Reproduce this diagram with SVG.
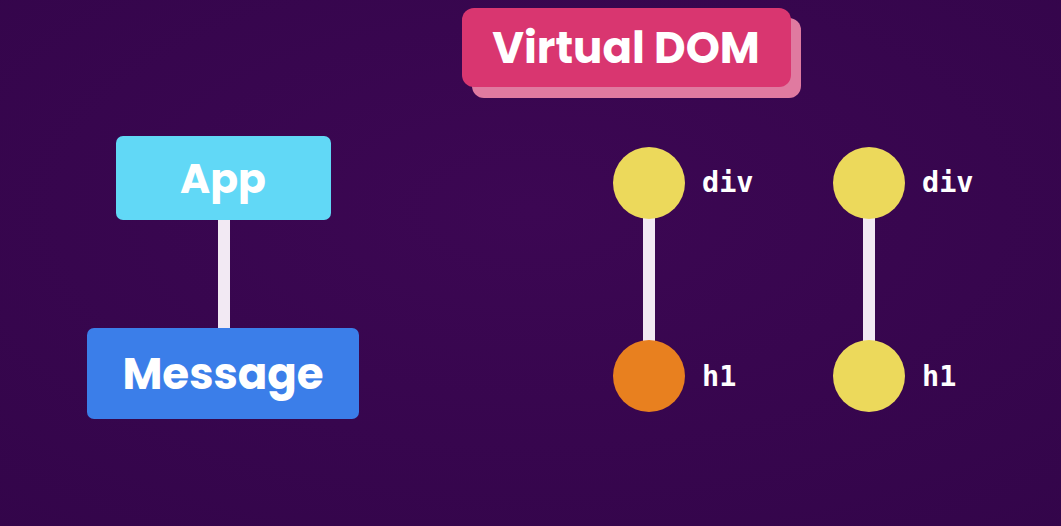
<svg xmlns="http://www.w3.org/2000/svg" width="1061" height="526" viewBox="0 0 1061 526">
<defs>
<radialGradient id="bg" cx="0.5" cy="0.4" r="0.8">
<stop offset="0" stop-color="#3c0753"/>
<stop offset="1" stop-color="#33054a"/>
</radialGradient>
</defs>
<style>
.lbl{font-family:Poppins,"Open Sans","Noto Sans","Liberation Sans",sans-serif;font-weight:700;fill:#ffffff;text-anchor:middle}
.code{font-family:"DejaVu Sans Mono","Liberation Mono",monospace;font-weight:700;font-size:28.5px;fill:#ffffff}
.edge{stroke:#f2e9f3;stroke-width:12;fill:none}
.yel{fill:#ecd95b}
.org{fill:#e8801f}
</style>
<rect width="1061" height="526" fill="url(#bg)"/>
<g id="title">
<rect x="472" y="18" width="329" height="80" rx="12" fill="#e07aa0"/>
<rect x="462" y="8" width="329" height="79" rx="12" fill="#d93670"/>
<text class="lbl" x="626" y="63" font-size="43.5">Virtual DOM</text>
</g>
<g id="connectors">
<line class="edge" x1="224" y1="219" x2="224" y2="329"/>
<line class="edge" x1="649" y1="210" x2="649" y2="350"/>
<line class="edge" x1="869" y1="210" x2="869" y2="350"/>
</g>
<g id="app">
<rect x="116" y="136" width="215" height="84" rx="7" fill="#61d8f6"/>
<text class="lbl" x="223" y="193" font-size="41">App</text>
</g>
<g id="message">
<rect x="87" y="328" width="272" height="91" rx="7" fill="#3b7ee9"/>
<text class="lbl" x="223" y="389" font-size="43.5">Message</text>
</g>
<g id="div1">
<circle class="yel" cx="649" cy="183" r="36"/>
<text class="code" x="702" y="192">div</text>
</g>
<g id="h1a">
<circle class="org" cx="649" cy="376" r="36"/>
<text class="code" x="702" y="386">h1</text>
</g>
<g id="div2">
<circle class="yel" cx="869" cy="183" r="36"/>
<text class="code" x="922" y="192">div</text>
</g>
<g id="h1b">
<circle class="yel" cx="869" cy="376" r="36"/>
<text class="code" x="922" y="386">h1</text>
</g>
</svg>
